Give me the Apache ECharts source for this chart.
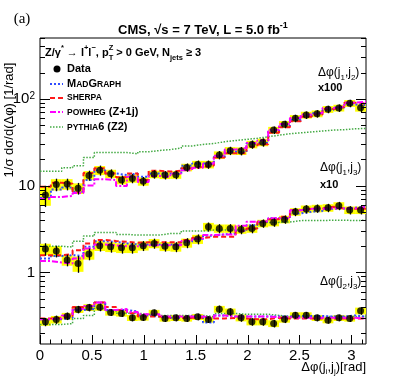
<!DOCTYPE html>
<html>
<head>
<meta charset="utf-8">
<script src="https://cdn.jsdelivr.net/npm/echarts@6/dist/echarts.min.js"></script>
<style>
  html, body { margin: 0; padding: 0; background: #fff; }
  #chart { width: 407px; height: 383px; }
</style>
</head>
<body>
<div id="chart"></div>
<script>
// 30 bins in delta-phi, 0..pi
const nBins = 30;
const phiMax = Math.PI;
const xTickLabels = [0, 0.5, 1, 1.5, 2, 2.5, 3];
const yTickLabels = [1, 10, 100];

// scale factors used in the plot
const scaleJ1J2 = 100;
const scaleJ1J3 = 10;
const scaleJ2J3 = 1;

// dphi(j1,j2), unscaled
const dataJ1J2 = [0.078, 0.103, 0.104, 0.093, 0.131, 0.150, 0.137, 0.116, 0.121, 0.112, 0.135, 0.132, 0.133, 0.162, 0.175,
                  0.175, 0.225, 0.252, 0.250, 0.298, 0.315, 0.435, 0.507, 0.594, 0.649, 0.672, 0.755, 0.782, 0.885, 0.788];
const errJ1J2 = [0.25, 0.15, 0.14, 0.14, 0.12, 0.12, 0.11, 0.11, 0.11, 0.11, 0.10, 0.10, 0.10, 0.10, 0.10,
                 0.10, 0.10, 0.10, 0.10, 0.10, 0.10, 0.09, 0.09, 0.09, 0.09, 0.09, 0.09, 0.09, 0.09, 0.10];
const madgraphJ1J2 = [0.072, 0.090, 0.095, 0.085, 0.116, 0.150, 0.138, 0.132, 0.138, 0.126, 0.138, 0.138, 0.136, 0.169, 0.180,
                      0.178, 0.215, 0.245, 0.240, 0.305, 0.310, 0.420, 0.490, 0.570, 0.630, 0.680, 0.740, 0.790, 0.860, 0.840];
const sherpaJ1J2 = [0.097, 0.108, 0.105, 0.084, 0.140, 0.158, 0.138, 0.125, 0.138, 0.116, 0.148, 0.145, 0.148, 0.158, 0.164,
                    0.170, 0.210, 0.235, 0.235, 0.280, 0.300, 0.405, 0.470, 0.550, 0.620, 0.660, 0.760, 0.800, 0.900, 0.880];
const powhegJ1J2 = [0.070, 0.074, 0.076, 0.082, 0.100, 0.118, 0.116, 0.099, 0.126, 0.110, 0.129, 0.126, 0.138, 0.150, 0.160,
                    0.180, 0.220, 0.260, 0.270, 0.310, 0.330, 0.440, 0.510, 0.600, 0.660, 0.690, 0.780, 0.810, 0.900, 0.920];
const pythiaJ1J2 = [0.146, 0.146, 0.160, 0.169, 0.210, 0.240, 0.240, 0.240, 0.232, 0.245, 0.253, 0.260, 0.270, 0.285, 0.298,
                    0.305, 0.320, 0.330, 0.340, 0.350, 0.365, 0.380, 0.395, 0.405, 0.415, 0.425, 0.435, 0.440, 0.450, 0.455];

// dphi(j1,j3), unscaled
const dataJ1J3 = [0.186, 0.176, 0.139, 0.127, 0.163, 0.203, 0.197, 0.192, 0.192, 0.203, 0.216, 0.200, 0.197, 0.219, 0.242,
                  0.335, 0.321, 0.321, 0.313, 0.321, 0.367, 0.377, 0.408, 0.499, 0.536, 0.546, 0.555, 0.585, 0.522, 0.522];
const errJ1J3 = [0.15, 0.14, 0.14, 0.20, 0.14, 0.13, 0.13, 0.13, 0.13, 0.12, 0.12, 0.12, 0.12, 0.12, 0.12,
                 0.11, 0.11, 0.11, 0.11, 0.11, 0.10, 0.10, 0.10, 0.10, 0.10, 0.10, 0.10, 0.10, 0.10, 0.10];
const madgraphJ1J3 = [0.145, 0.155, 0.158, 0.155, 0.197, 0.229, 0.225, 0.216, 0.210, 0.210, 0.210, 0.210, 0.210, 0.225, 0.242,
                      0.265, 0.274, 0.280, 0.299, 0.350, 0.383, 0.420, 0.420, 0.478, 0.500, 0.510, 0.540, 0.545, 0.555, 0.570];
const sherpaJ1J3 = [0.158, 0.158, 0.162, 0.180, 0.216, 0.236, 0.230, 0.225, 0.220, 0.222, 0.222, 0.222, 0.222, 0.236, 0.250,
                    0.257, 0.257, 0.257, 0.299, 0.320, 0.383, 0.410, 0.437, 0.520, 0.540, 0.545, 0.570, 0.545, 0.540, 0.540];
const powhegJ1J3 = [0.135, 0.130, 0.127, 0.145, 0.189, 0.210, 0.205, 0.200, 0.200, 0.205, 0.205, 0.205, 0.205, 0.230, 0.245,
                    0.270, 0.274, 0.274, 0.345, 0.383, 0.390, 0.420, 0.420, 0.520, 0.540, 0.540, 0.550, 0.545, 0.545, 0.570];
const pythiaJ1J3 = [0.200, 0.200, 0.196, 0.229, 0.262, 0.289, 0.289, 0.274, 0.269, 0.269, 0.269, 0.281, 0.281, 0.300, 0.300,
                    0.307, 0.307, 0.307, 0.310, 0.315, 0.375, 0.377, 0.380, 0.395, 0.395, 0.395, 0.400, 0.400, 0.395, 0.400];

// dphi(j2,j3)
const dataJ2J3 = [0.270, 0.287, 0.314, 0.375, 0.395, 0.398, 0.346, 0.337, 0.300, 0.303, 0.343, 0.295, 0.300, 0.295, 0.308,
                  0.287, 0.378, 0.352, 0.300, 0.270, 0.270, 0.258, 0.290, 0.322, 0.322, 0.300, 0.282, 0.300, 0.295, 0.361];
const errJ2J3 = [0.10, 0.10, 0.09, 0.09, 0.09, 0.09, 0.08, 0.08, 0.08, 0.08, 0.08, 0.08, 0.08, 0.08, 0.08,
                 0.08, 0.09, 0.09, 0.09, 0.09, 0.09, 0.09, 0.09, 0.08, 0.08, 0.08, 0.08, 0.08, 0.08, 0.09];
const madgraphJ2J3 = [0.290, 0.290, 0.300, 0.370, 0.380, 0.450, 0.370, 0.370, 0.355, 0.320, 0.310, 0.300, 0.300, 0.300, 0.300,
                      0.265, 0.320, 0.310, 0.310, 0.310, 0.310, 0.310, 0.310, 0.315, 0.315, 0.315, 0.310, 0.310, 0.320, 0.310];
const sherpaJ2J3 = [0.295, 0.300, 0.316, 0.400, 0.420, 0.450, 0.400, 0.370, 0.340, 0.310, 0.310, 0.300, 0.300, 0.300, 0.300,
                    0.295, 0.295, 0.300, 0.295, 0.290, 0.290, 0.300, 0.295, 0.295, 0.295, 0.295, 0.295, 0.295, 0.295, 0.295];
const powhegJ2J3 = [0.290, 0.295, 0.320, 0.380, 0.410, 0.450, 0.370, 0.380, 0.350, 0.330, 0.330, 0.310, 0.310, 0.310, 0.310,
                    0.300, 0.320, 0.310, 0.310, 0.310, 0.310, 0.305, 0.305, 0.300, 0.300, 0.300, 0.300, 0.300, 0.300, 0.295];
const pythiaJ2J3 = [0.252, 0.252, 0.258, 0.295, 0.320, 0.385, 0.360, 0.340, 0.340, 0.330, 0.320, 0.320, 0.320, 0.320, 0.320,
                    0.310, 0.337, 0.337, 0.330, 0.330, 0.330, 0.320, 0.310, 0.310, 0.310, 0.310, 0.310, 0.310, 0.310, 0.310];

const yMin = 0.15, yMax = 500;
const binW = phiMax / nBins;
const font = '"Liberation Sans", Arial, Helvetica, sans-serif';

const groups = [
  {data: dataJ1J2, err: errJ1J2, s: scaleJ1J2, mg: madgraphJ1J2, sh: sherpaJ1J2, pw: powhegJ1J2, py: pythiaJ1J2},
  {data: dataJ1J3, err: errJ1J3, s: scaleJ1J3, mg: madgraphJ1J3, sh: sherpaJ1J3, pw: powhegJ1J3, py: pythiaJ1J3},
  {data: dataJ2J3, err: errJ2J3, s: scaleJ2J3, mg: madgraphJ2J3, sh: sherpaJ2J3, pw: powhegJ2J3, py: pythiaJ2J3}
];

const styles = {
  mg: {color: '#2f4bff', type: [2, 2], width: 2},
  sh: {color: '#ff1a1a', type: [5, 3], width: 2},
  pw: {color: '#ff00ff', type: [6, 2, 2, 2], width: 2},
  py: {color: '#44aa44', type: [1.5, 1.5], width: 1.5}
};

function histLine(vals, scale, st) {
  let pts = vals.map((v, i) => [i * binW, v * scale]);
  pts.push([phiMax, vals[vals.length - 1] * scale]);
  return {
    type: 'line', step: 'end', data: pts, symbol: 'none', silent: true, z: 3,
    lineStyle: {color: st.color, type: st.type, width: st.width}
  };
}

let boxData = [], barData = [], pointData = [];
groups.forEach(g => {
  g.data.forEach((v, i) => {
    const y = v * g.s;
    const e = g.err[i];
    boxData.push([i * binW, (i + 1) * binW, y * (1 - e), y * (1 + e)]);
    barData.push([(i + 0.5) * binW, y * (1 - e * 1.1), y * (1 + e * 1.1)]);
    pointData.push([(i + 0.5) * binW, y]);
  });
});

let series = [];
series.push({
  type: 'custom', silent: true, z: 2,
  data: boxData,
  encode: {x: [0, 1], y: [2, 3]},
  renderItem: function (params, api) {
    const p1 = api.coord([api.value(0), api.value(3)]);
    const p2 = api.coord([api.value(1), api.value(2)]);
    return {type: 'rect', shape: {x: p1[0], y: p1[1], width: p2[0] - p1[0], height: p2[1] - p1[1]},
            style: {fill: '#ffff00'}};
  }
});
groups.forEach(g => {
  ['py', 'mg', 'sh', 'pw'].forEach(k => series.push(histLine(g[k], g.s, styles[k])));
});
series.push({
  type: 'custom', silent: true, z: 5,
  data: barData,
  encode: {x: 0, y: [1, 2]},
  renderItem: function (params, api) {
    const a = api.coord([api.value(0), api.value(1)]);
    const b = api.coord([api.value(0), api.value(2)]);
    const x = Math.round(a[0]) + 0.5;
    return {type: 'line', shape: {x1: x, y1: a[1], x2: x, y2: b[1]}, style: {stroke: '#000', lineWidth: 1.3}};
  }
});
series.push({
  type: 'scatter', data: pointData, symbol: 'circle', symbolSize: 7, silent: true, z: 6,
  itemStyle: {color: '#000'}
});
// frame ticks, ROOT style
series.push({
  type: 'custom', silent: true, z: 8, clip: false,
  data: [[0, 1]],
  renderItem: function (params, api) {
    const kids = [];
    const bl = api.coord([0, yMin]);
    const tr = api.coord([phiMax, yMax]);
    const ln = (x1, y1, x2, y2) => kids.push({type: 'line', shape: {x1, y1, x2, y2}, style: {stroke: '#000', lineWidth: 1}});
    for (let k = 0; k <= 31; k++) {
      const v = k * 0.1;
      if (v > phiMax) break;
      const x = Math.round(api.coord([v, yMin])[0]) + 0.5;
      const len = k % 5 === 0 ? 9 : 4.5;
      ln(x, bl[1], x, bl[1] - len);
    }
    for (let d = -1; d <= 2; d++) {
      for (let m = 1; m <= 9; m++) {
        const v = m * Math.pow(10, d);
        if (v < yMin || v > yMax) continue;
        const y = Math.round(api.coord([0, v])[1]) + 0.5;
        const len = m === 1 ? 10 : 5;
        ln(bl[0], y, bl[0] + len, y);
        ln(tr[0], y, tr[0] - len, y);
      }
    }
    return {type: 'group', children: kids};
  }
});

const sub = {fontSize: 8, lineHeight: 8, verticalAlign: 'bottom', fontFamily: font};

function txt(x, y, text, rich, extra) {
  return {
    type: 'text', x: x, y: y, z: 20,
    style: Object.assign({text: text, fontFamily: font, fill: '#000', verticalAlign: 'middle', rich: rich || {}}, extra || {})
  };
}

// header line styles (sub/superscripts)
const bold = {fontSize: 11, fontWeight: 'bold', lineHeight: 18, fontFamily: font};
const boldSub = {fontSize: 7.5, fontWeight: 'bold', lineHeight: 8, verticalAlign: 'bottom', fontFamily: font};
const boldSup = {fontSize: 7.5, fontWeight: 'bold', lineHeight: 12, verticalAlign: 'top', fontFamily: font};
// legend styles (small caps, baseline aligned)
const legB = {fontSize: 11, fontWeight: 'bold', lineHeight: 11, verticalAlign: 'bottom', fontFamily: font};
const legS = {fontSize: 8.5, fontWeight: 'bold', lineHeight: 8.5, verticalAlign: 'bottom', fontFamily: font};
const norm = {fontSize: 12, lineHeight: 18, fontFamily: font};

const legendY = [69, 84, 98, 112, 127];
function legLine(y, st) {
  return {type: 'line', z: 20, shape: {x1: 50, y1: y, x2: 63, y2: y},
          style: {stroke: st.color, lineWidth: st.width, lineDash: st.type}};
}
const graphic = [
  txt(22, 19, '(a)', null, {fontFamily: '"Liberation Serif", serif', fontSize: 15, align: 'center'}),
  txt(203, 30, '{t|CMS, √s = 7 TeV, L = 5.0 fb}{u|-1}',
      {t: {fontSize: 13, fontWeight: 'bold', lineHeight: 18, fontFamily: font},
       u: {fontSize: 9, fontWeight: 'bold', lineHeight: 12, verticalAlign: 'top', fontFamily: font}}, {align: 'center'}),
  txt(45, 53, '{b|Z/γ}{p|*}{b| → l}{p|+}{b|l}{p|−}{b|, p}{q|T}{p|Z}{b| > 0 GeV, N}{s|jets}{b| ≥ 3}',
      {b: bold, s: boldSub, p: boldSup, q: Object.assign({}, boldSub, {width: 0})}),
  {type: 'circle', shape: {cx: 57, cy: legendY[0], r: 3.5}, style: {fill: '#000'}, z: 20},
  txt(67, legendY[0], '{b|Data}', {b: legB}),
  legLine(legendY[1], styles.mg),
  txt(67, legendY[1], '{b|M}{s|AD}{b|G}{s|RAPH}', {b: legB, s: legS}),
  legLine(legendY[2], styles.sh),
  txt(67, legendY[2], '{s|SHERPA}', {s: legS}),
  legLine(legendY[3], styles.pw),
  txt(67, legendY[3], '{s|POWHEG}{b| (Z+1j)}', {b: legB, s: legS}),
  legLine(legendY[4], styles.py),
  txt(67, legendY[4], '{s|PYTHIA}{b|6 (Z2)}', {b: legB, s: legS}),
  txt(318, 73, '{n|Δφ(j}{d|1}{n|,j}{d|2}{n|)}', {n: norm, d: sub}),
  txt(318, 88, '{b|x100}', {b: legB}),
  txt(320, 168, '{n|Δφ(j}{d|1}{n|,j}{d|3}{n|)}', {n: norm, d: sub}),
  txt(320, 185, '{b|x10}', {b: legB}),
  txt(320, 282, '{n|Δφ(j}{d|2}{n|,j}{d|3}{n|)}', {n: norm, d: sub}),
  txt(366, 367, '{n|Δφ(j}{d|i}{n|,j}{d|j}{n|)[rad]}', {n: {fontSize: 13, lineHeight: 18, fontFamily: font}, d: sub}, {align: 'right'}),
  {type: 'text', x: 9, y: 120, rotation: Math.PI / 2, z: 20,
   style: {text: '1/σ dσ/d(Δφ) [1/rad]', fontFamily: font, fontSize: 13, fill: '#000', align: 'center', verticalAlign: 'middle'}}
];

const chart = echarts.init(document.getElementById('chart'));
chart.setOption({
  animation: false,
  backgroundColor: '#fff',
  grid: {left: 40, right: 41, top: 38, bottom: 39, show: true, borderColor: '#000', borderWidth: 1, backgroundColor: 'transparent'},
  xAxis: {
    type: 'value', min: 0, max: phiMax, interval: 0.5,
    axisLine: {show: false}, axisTick: {show: false}, splitLine: {show: false},
    axisLabel: {
      fontFamily: font, fontSize: 15, color: '#000', margin: 4, showMaxLabel: false,
      formatter: v => xTickLabels.some(t => Math.abs(t - v) < 1e-6) ? String(v) : ''
    }
  },
  yAxis: {
    type: 'log', logBase: 10, min: yMin, max: yMax,
    axisLine: {show: false}, axisTick: {show: false}, splitLine: {show: false},
    axisLabel: {
      fontFamily: font, fontSize: 15, color: '#000', margin: 5, showMinLabel: false, showMaxLabel: false,
      formatter: v => {
        const t = yTickLabels.find(t => Math.abs(t - v) / t < 1e-6);
        if (t === undefined) return '';
        return t === 100 ? '10{p|2}' : String(t);
      },
      rich: {p: {fontSize: 10, verticalAlign: 'top', lineHeight: 12, fontFamily: font}}
    }
  },
  graphic: graphic,
  series: series
});
</script>
</body>
</html>
